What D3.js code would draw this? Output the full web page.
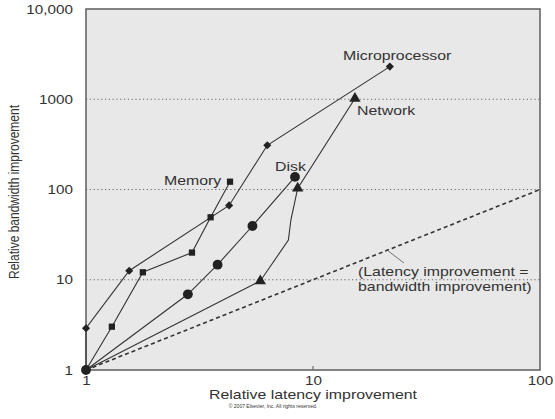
<!DOCTYPE html>
<html>
<head>
<meta charset="utf-8">
<script src="https://cdn.jsdelivr.net/npm/d3@7"></script>
<style>
  html, body { margin: 0; padding: 0; background: #fff; }
  svg { display: block; font-family: "Liberation Sans", Arial, Helvetica, sans-serif; }
</style>
</head>
<body>
<svg id="chart" width="555" height="419"></svg>
<script>
// Milestones relative to the first one (latency improvement, bandwidth improvement)
const microLatency = [1, 1, 1.55, 4.27, 6.29, 21.8];
const microBandwidth = [1, 2.9, 12.6, 66.6, 309, 2300];

const memoryLatency = [1, 1.30, 1.78, 2.93, 3.54, 4.31];
const memoryBandwidth = [1, 3.02, 12.1, 20, 49.2, 122];

const diskLatency = [1, 2.81, 3.80, 5.41, 8.33];
const diskBandwidth = [1, 6.9, 14.7, 39.4, 138];

const networkLatency = [1, 5.86, 7.79, 7.99, 8.56, 15.3];
const networkBandwidth = [1, 9.7, 27.5, 45.9, 103, 1020];
const networkMarked = [false, true, false, false, true, true];

const xTicks = [1, 10, 100];
const xTickLabels = ["1", "10", "100"];
const yTicks = [1, 10, 100, 1000, 10000];
const yTickLabels = ["1", "10", "100", "1000", "10,000"];
const gridValues = [10, 100, 1000];

const svg = d3.select("#chart");
const plotLeft = 86, plotRight = 540, plotTop = 9, plotBottom = 370;
const widen = 1.22;          // wide-set lettering
const ink = "#333";

const x = d3.scaleLog().domain([1, 100]).range([plotLeft, plotRight]);
const y = d3.scaleLog().domain([1, 10000]).range([plotBottom, plotTop]);

// widened text placed at (px, py)
function label(px, py, str, size, anchor, stretch) {
  return svg.append("text")
    .attr("transform", `translate(${px},${py}) scale(${stretch || widen},1)`)
    .attr("text-anchor", anchor || "start")
    .attr("font-size", size).attr("fill", ink)
    .text(str);
}

// plot panel
svg.append("rect")
  .attr("x", plotLeft).attr("y", plotTop)
  .attr("width", plotRight - plotLeft).attr("height", plotBottom - plotTop)
  .attr("fill", "#e8e8e8");

// dotted gridlines
svg.append("g").selectAll("line").data(gridValues).join("line")
  .attr("x1", plotLeft).attr("x2", plotRight)
  .attr("y1", d => y(d)).attr("y2", d => y(d))
  .attr("stroke", "#666").attr("stroke-width", 1)
  .attr("stroke-dasharray", "1.2,2.6");

// y axis labels
const yPad = 13;
const yAxis = d3.axisLeft(y).tickValues(yTicks)
  .tickFormat((d, i) => yTickLabels[i]).tickSize(0).tickPadding(yPad);
const gy = svg.append("g").attr("transform", `translate(${plotLeft},0)`).call(yAxis);
gy.select(".domain").remove();
gy.selectAll("text")
  .attr("font-size", 12.5).attr("fill", ink)
  .attr("font-family", "'Liberation Sans', Arial, sans-serif")
  .attr("x", -yPad / widen)
  .attr("transform", `scale(${widen},1)`);

// x axis labels
const xAxis = d3.axisBottom(x).tickValues(xTicks)
  .tickFormat((d, i) => xTickLabels[i]).tickSize(0).tickPadding(6);
const gx = svg.append("g").attr("transform", `translate(0,${plotBottom})`).call(xAxis);
gx.select(".domain").remove();
gx.selectAll("text")
  .attr("font-size", 12.5).attr("fill", ink)
  .attr("font-family", "'Liberation Sans', Arial, sans-serif")
  .attr("transform", `scale(${widen},1)`);

// small inner tick at 10 on the latency axis
svg.append("line")
  .attr("x1", x(10)).attr("x2", x(10))
  .attr("y1", plotBottom).attr("y2", plotBottom - 4)
  .attr("stroke", "#555").attr("stroke-width", 1);

// frame
svg.append("rect")
  .attr("x", plotLeft).attr("y", plotTop)
  .attr("width", plotRight - plotLeft).attr("height", plotBottom - plotTop)
  .attr("fill", "none").attr("stroke", "#666").attr("stroke-width", 1.6);

// latency = bandwidth reference line
svg.append("line")
  .attr("x1", x(1)).attr("y1", y(1))
  .attr("x2", x(100)).attr("y2", y(100))
  .attr("stroke", ink).attr("stroke-width", 1.6)
  .attr("stroke-dasharray", "4,3");

const line = d3.line().x(d => x(d[0])).y(d => y(d[1]));
const zip = (a, b) => a.map((v, i) => [v, b[i]]);

const series = [
  { pts: zip(microLatency, microBandwidth), shape: d3.symbolDiamond2, size: 42, marked: microLatency.map((d, i) => i > 0) },
  { pts: zip(memoryLatency, memoryBandwidth), shape: d3.symbolSquare2, size: 50, marked: memoryLatency.map((d, i) => i > 0) },
  { pts: zip(networkLatency, networkBandwidth), shape: d3.symbolTriangle, size: 56, marked: networkMarked },
  { pts: zip(diskLatency, diskBandwidth), shape: d3.symbolCircle, size: 76, marked: diskLatency.map(() => true) }
];

series.forEach(s => {
  svg.append("path").attr("d", line(s.pts))
    .attr("fill", "none").attr("stroke", ink).attr("stroke-width", 1.1);
});

series.forEach(s => {
  svg.append("g").selectAll("path")
    .data(s.pts.filter((d, i) => s.marked[i])).join("path")
    .attr("transform", d => `translate(${x(d[0])},${y(d[1])})`)
    .attr("d", d3.symbol().type(s.shape).size(s.size))
    .attr("fill", "#222").attr("stroke", "none");
});

// series labels
label(343, 60, "Microprocessor", 13);
label(357, 115, "Network", 13);
label(275, 171, "Disk", 13);
label(164, 185, "Memory", 13);

// annotation of the reference line
svg.append("line")
  .attr("x1", 387).attr("y1", 250).attr("x2", 404).attr("y2", 263)
  .attr("stroke", "#555").attr("stroke-width", 0.8);
label(358, 276, "(Latency improvement =", 13);
label(358, 291, "bandwidth improvement)", 13);

// axis titles
label(313, 399, "Relative latency improvement", 12.5, "middle", 1.27);
svg.append("text")
  .attr("transform", "translate(19,192) rotate(-90) scale(1,1.15)")
  .attr("text-anchor", "middle")
  .attr("font-size", 12).attr("fill", ink)
  .text("Relative bandwidth improvement");

// copyright line
svg.append("text")
  .attr("x", 273).attr("y", 408).attr("text-anchor", "middle")
  .attr("font-size", 5).attr("fill", ink)
  .text("© 2007 Elsevier, Inc. All rights reserved.");
</script>
</body>
</html>
